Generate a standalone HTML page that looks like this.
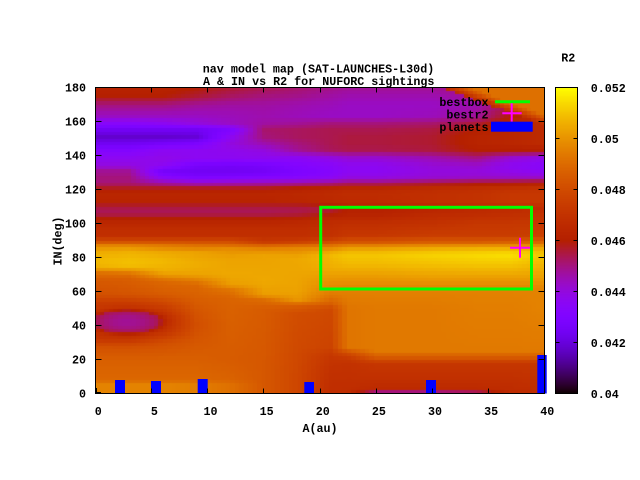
<!DOCTYPE html>
<html><head><meta charset="utf-8"><style>
html,body{margin:0;padding:0;background:#fff;}
#w{position:relative;width:640px;height:480px;overflow:hidden;background:#fff;}
canvas{position:absolute;}
svg{position:absolute;left:0;top:0;}
text{font-family:"Liberation Mono","DejaVu Sans Mono",monospace;font-size:11.7px;font-weight:bold;fill:#000;}
</style></head><body><div id="w">
<canvas id="hm" width="448" height="305" style="left:96px;top:88px;background:linear-gradient(to bottom,rgb(171,23,79) 0%,rgb(161,16,150) 5.6%,rgb(140,7,243) 13.9%,rgb(161,16,150) 19.4%,rgb(128,4,255) 26.7%,rgb(171,23,79) 32.2%,rgb(185,40,0) 36.1%,rgb(171,23,79) 40%,rgb(190,45,0) 44.4%,rgb(205,70,0) 50%,rgb(242,186,0) 54.4%,rgb(235,160,0) 60%,rgb(225,120,0) 66.7%,rgb(220,110,0) 86%,rgb(196,55,0) 91.7%,rgb(190,45,0) 100%);"></canvas>
<canvas id="cb" width="21" height="305" style="left:556px;top:88px;background:linear-gradient(to bottom,rgb(255,255,0) 0%,rgb(242,186,0) 10%,rgb(228,131,0) 20%,rgb(213,88,0) 30%,rgb(198,55,0) 40%,rgb(180,32,0) 50%,rgb(171,23,79) 55%,rgb(161,16,150) 60%,rgb(151,11,206) 65%,rgb(140,7,243) 70%,rgb(128,4,255) 75%,rgb(114,2,243) 80%,rgb(99,1,206) 85%,rgb(81,0,150) 90%,rgb(57,0,79) 95%,rgb(0,0,0) 100%);"></canvas>
<svg width="640" height="480" viewBox="0 0 640 480">
<text x="318.5" y="72.5" text-anchor="middle">nav model map (SAT-LAUNCHES-L30d)</text>
<text x="318.7" y="85" text-anchor="middle">A &amp; IN vs R2 for NUFORC sightings</text>

<g fill="#0000ff">
<rect x="115" y="380" width="10" height="13.5"/>
<rect x="151" y="381" width="10" height="12.5"/>
<rect x="197.7" y="379" width="10" height="14.5"/>
<rect x="304.3" y="382" width="9.7" height="11.5"/>
<rect x="426" y="380" width="10" height="13.5"/>
<rect x="537.3" y="355" width="9.4" height="38.5"/>
</g>

<g stroke="#000" stroke-width="1" shape-rendering="crispEdges" fill="none">
<rect x="95.5" y="87.5" width="449" height="306"/>
<path d="M151.5 393.5v-5M207.5 393.5v-5M263.5 393.5v-5M320.5 393.5v-5M376.5 393.5v-5M432.5 393.5v-5M488.5 393.5v-5
M151.5 87.5v5M207.5 87.5v5M263.5 87.5v5M320.5 87.5v5M376.5 87.5v5M432.5 87.5v5M488.5 87.5v5
M95.5 359.5h6M95.5 325.5h6M95.5 291.5h6M95.5 257.5h6M95.5 223.5h6M95.5 189.5h6M95.5 155.5h6M95.5 121.5h6
M544.5 359.5h-6M544.5 325.5h-6M544.5 291.5h-6M544.5 257.5h-6M544.5 223.5h-6M544.5 189.5h-6M544.5 155.5h-6M544.5 121.5h-6
M96 392.5h5M96.5 393v-5"/>
<rect x="555.5" y="87.5" width="22" height="306"/>
<path d="M555.5 138.5h4M555.5 189.5h4M555.5 240.5h4M555.5 291.5h4M555.5 342.5h4
M577.5 138.5h-4M577.5 189.5h-4M577.5 240.5h-4M577.5 291.5h-4M577.5 342.5h-4"/>
</g>

<rect x="320.7" y="207.3" width="210.8" height="81.7" fill="none" stroke="#00ff00" stroke-width="3"/>
<path d="M510 247.8h20M520 237.8v20" stroke="#ff00ff" stroke-width="2" fill="none"/>

<text x="488.5" y="106" text-anchor="end">bestbox</text>
<line x1="495" y1="101.7" x2="530" y2="101.7" stroke="#00ff00" stroke-width="3"/>
<text x="488.5" y="118.5" text-anchor="end">bestr2</text>
<path d="M502.3 113.3h19.4M511.7 103.3v18.4" stroke="#ff00ff" stroke-width="2" fill="none"/>
<text x="488.5" y="131" text-anchor="end">planets</text>
<rect x="491" y="121.7" width="41.7" height="10" fill="#0000ff"/>

<g text-anchor="end">
<text x="86" y="397.5">0</text>
<text x="86" y="363.5">20</text>
<text x="86" y="329.5">40</text>
<text x="86" y="295.5">60</text>
<text x="86" y="261.5">80</text>
<text x="86" y="227.5">100</text>
<text x="86" y="193.5">120</text>
<text x="86" y="159.5">140</text>
<text x="86" y="125.5">160</text>
<text x="86" y="91.5">180</text>
</g>
<g text-anchor="middle">
<text x="98.3" y="415">0</text>
<text x="154.4" y="415">5</text>
<text x="210.5" y="415">10</text>
<text x="266.7" y="415">15</text>
<text x="322.8" y="415">20</text>
<text x="378.9" y="415">25</text>
<text x="435" y="415">30</text>
<text x="491.2" y="415">35</text>
<text x="547.3" y="415">40</text>
</g>
<text x="320" y="432" text-anchor="middle">A(au)</text>
<text transform="translate(61.5,241) rotate(-90)" text-anchor="middle">IN(deg)</text>
<text x="568.3" y="61.5" text-anchor="middle">R2</text>
<g>
<text x="590.7" y="92">0.052</text>
<text x="590.7" y="143">0.05</text>
<text x="590.7" y="194">0.048</text>
<text x="590.7" y="245">0.046</text>
<text x="590.7" y="296">0.044</text>
<text x="590.7" y="347">0.042</text>
<text x="590.7" y="398">0.04</text>
</g>
</svg>
</div>
<script>
(function(){
function pal(v){v=Math.max(0,Math.min(1,v));
 return [Math.round(255*Math.sqrt(v)),Math.round(255*v*v*v),Math.round(255*Math.max(0,Math.sin(2*Math.PI*v)))];}
var top0=[[180,.52],[175,.5],[170,.42],[163,.36],[159,.28],[155,.2],[151,.15],[147,.2],[143,.26],[139,.3],[134,.33],[131,.4],[127,.42],[124,.42],[121,.48],[118,.53]];
var top6=[[180,.52],[175,.5],[170,.42],[163,.36],[159,.3],[155,.2],[151,.15],[147,.22],[143,.3],[138,.32],[134,.3],[131,.22],[128,.26],[125,.35],[121,.48],[118,.53]];
var top9=[[180,.5],[175,.47],[170,.4],[163,.36],[159,.33],[155,.2],[151,.16],[147,.24],[143,.3],[138,.3],[134,.22],[130,.2],[127,.25],[124,.35],[121,.48],[118,.53]];
var top12=[[180,.47],[175,.44],[170,.39],[163,.37],[159,.36],[155,.25],[151,.3],[147,.33],[143,.31],[138,.3],[134,.21],[130,.2],[127,.26],[124,.36],[121,.48],[118,.53]];
var top15=[[180,.45],[175,.42],[170,.39],[163,.38],[159,.39],[155,.43],[151,.42],[147,.38],[143,.33],[138,.3],[134,.22],[130,.21],[127,.27],[124,.37],[121,.48],[118,.53]];
var top18=[[180,.43],[175,.41],[170,.38],[163,.37],[159,.4],[155,.44],[151,.44],[147,.42],[143,.4],[139,.3],[134,.26],[130,.24],[127,.28],[124,.38],[121,.5],[118,.54]];
var top21=[[180,.41],[175,.39],[170,.37],[163,.36],[159,.42],[155,.45],[151,.45],[147,.45],[143,.44],[139,.33],[134,.28],[130,.27],[127,.3],[124,.4],[121,.52],[118,.55]];
var top25=[[180,.4],[175,.38],[170,.36],[163,.36],[159,.42],[155,.45],[151,.46],[147,.46],[143,.45],[139,.35],[134,.3],[130,.3],[127,.33],[124,.42],[121,.53],[118,.56]];
var top30=[[180,.4],[175,.38],[170,.36],[163,.37],[159,.43],[155,.46],[151,.47],[147,.47],[143,.46],[139,.38],[134,.34],[130,.33],[127,.35],[124,.45],[121,.55],[118,.57]];
var top34=[[180,.42],[175,.4],[170,.38],[163,.4],[159,.47],[155,.5],[151,.52],[147,.52],[143,.5],[139,.42],[134,.35],[130,.33],[127,.36],[124,.47],[121,.56],[118,.58]];
var top37=[[180,.45],[175,.45],[170,.45],[163,.5],[159,.53],[155,.53],[151,.53],[147,.53],[143,.5],[139,.35],[134,.3],[130,.32],[127,.36],[124,.48],[121,.57],[118,.6]];
var top40=[[180,.55],[170,.55],[163,.55],[159,.55],[155,.55],[151,.55],[147,.55],[143,.5],[139,.32],[134,.28],[130,.3],[127,.36],[124,.5],[121,.58],[118,.6]];
var M0=[[113,.52],[110,.46],[106,.44],[102,.52],[97,.56],[93,.57],[90,.65]];
var cols=[
[0,top0.concat(M0,[[87,.8],[84,.87],[78,.9],[74,.88],[71,.76],[66,.7],[58,.68],[53,.62],[32,.6],[28,.68],[20,.72],[8,.74],[5,.8],[0,.8]])],
[3,top0.concat(M0,[[87,.8],[84,.88],[78,.91],[74,.9],[72,.8],[68,.72],[58,.69],[53,.62],[32,.6],[28,.68],[20,.72],[8,.74],[5,.8],[0,.8]])],
[6,top6.concat(M0,[[87,.78],[83,.87],[78,.9],[72,.88],[69,.82],[66,.74],[58,.71],[52,.64],[44,.57],[36,.6],[30,.68],[20,.72],[8,.74],[5,.8],[0,.8]])],
[9,top9.concat(M0,[[87,.76],[83,.86],[76,.88],[70,.86],[67,.8],[64,.74],[56,.72],[50,.7],[40,.68],[30,.7],[20,.72],[8,.74],[5,.79],[0,.79]])],
[12,top12.concat(M0,[[88,.72],[85,.82],[80,.86],[70,.87],[64,.85],[61,.77],[56,.73],[20,.71],[8,.73],[5,.76],[0,.76]])],
[15,top15.concat([[113,.52],[110,.46],[106,.44],[102,.52],[97,.56],[92,.57],[89,.62],[86,.78],[82,.86],[66,.87],[58,.85],[55,.75],[50,.71],[20,.7],[8,.7],[0,.7]])],
[18,top18.concat([[113,.53],[110,.46],[106,.45],[102,.53],[97,.56],[92,.57],[89,.64],[86,.8],[80,.87],[60,.86],[55,.84],[52,.72],[47,.67],[10,.65],[0,.65]])],
[21,top21.concat([[113,.54],[109,.46],[106,.48],[102,.55],[97,.57],[92,.58],[89,.68],[86,.8],[82,.9],[74,.88],[66,.83],[58,.78],[53,.72],[50,.66],[27,.64],[22,.6],[14,.58],[0,.56]])],
[22.5,top25.concat([[113,.55],[109,.5],[105,.52],[100,.57],[93,.6],[89,.7],[86,.84],[82,.92],[76,.9],[68,.84],[62,.8],[50,.77],[27,.77],[22,.62],[18,.58],[8,.57],[0,.56]])],
[25,top25.concat([[113,.55],[109,.5],[105,.52],[100,.57],[93,.6],[89,.7],[86,.84],[82,.92],[76,.9],[68,.84],[62,.8],[50,.78],[25,.78],[21,.7],[18,.6],[8,.57],[3,.55],[1,.42],[0,.4]])],
[30,top30.concat([[113,.57],[109,.52],[105,.55],[100,.58],[93,.62],[89,.72],[86,.86],[82,.94],[76,.91],[68,.85],[62,.8],[50,.78],[25,.78],[21,.7],[18,.6],[8,.57],[3,.55],[1,.42],[0,.4]])],
[34,top34.concat([[113,.58],[109,.54],[105,.56],[100,.6],[93,.62],[89,.72],[86,.87],[82,.95],[76,.92],[68,.85],[62,.8],[50,.79],[25,.78],[21,.7],[18,.6],[8,.57],[3,.55],[1,.45],[0,.42]])],
[37,top37.concat([[113,.6],[109,.55],[105,.57],[100,.6],[93,.62],[89,.73],[86,.87],[82,.96],[76,.92],[68,.85],[62,.8],[50,.79],[25,.78],[21,.7],[18,.6],[8,.57],[0,.55]])],
[40,top40.concat([[113,.6],[109,.56],[105,.58],[100,.6],[93,.63],[89,.74],[86,.86],[82,.92],[76,.89],[68,.85],[62,.8],[50,.8],[25,.78],[21,.7],[18,.6],[8,.58],[0,.56]])]
];
function P(l,i){
 if(i>=l[0][0])return l[0][1];
 for(var k=0;k<l.length-1;k++){
  if(i>=l[k+1][0]){var t=(i-l[k+1][0])/(l[k][0]-l[k+1][0]);return l[k+1][1]+t*(l[k][1]-l[k+1][1]);}
 }
 return l[l.length-1][1];
}
function val(a,i){
 var k=0;while(k<cols.length-2&&a>cols[k+1][0])k++;
 var c0=cols[k],c1=cols[k+1];
 var t=(a-c0[0])/(c1[0]-c0[0]);t=Math.max(0,Math.min(1,t));
 var v=P(c0[1],i)*(1-t)+P(c1[1],i)*t;
 // magenta ellipse with red halo
 var d=Math.pow((a-2.8)/2.9,2)+Math.pow((i-42.2)/6.5,2);
 var h=Math.exp(-Math.max(0,d-1)*0.6);
 v=v*(1-0.5*h)+0.55*0.5*h;
 var w=d<=1?1:Math.exp(-(d-1)*3);
 v=v*(1-w)+(0.4+0.05*Math.min(d,1))*w;
 // top-right orange
 var dd=i-(180-(a-32.5)*2.43);
 if(dd>-4){var ww=Math.max(0,Math.min(1,(dd+4)/6));v=Math.max(v,0.55+0.21*ww);}
 return v;
}
var c=document.getElementById('hm'),ctx=c.getContext('2d');
if(ctx){
 var W=448,H=305,img=ctx.createImageData(W,H),D=img.data;
 for(var py=0;py<H;py++){
  var Y=88+py+0.5,IN=(393.5-Y)/1.7;
  var qi=Math.floor(IN/2)*2+1;
  for(var px=0;px<W;px++){
   var X=96+px+0.5,A=(X-95.5)/11.225;
   var qa=Math.floor(A*2.5)/2.5+0.2;
   var col=pal(val(qa,qi));
   var o=(py*W+px)*4;D[o]=col[0];D[o+1]=col[1];D[o+2]=col[2];D[o+3]=255;
  }
 }
 ctx.putImageData(img,0,0);
}
var cb=document.getElementById('cb'),cx=cb.getContext('2d');
if(cx){
 for(var r=0;r<305;r++){
  var y=88+r+0.5,v=(393.5-y)/306;var q=pal(v);
  cx.fillStyle='rgb('+q[0]+','+q[1]+','+q[2]+')';cx.fillRect(0,r,21,1);
 }
}
})();
</script>
</body></html>
